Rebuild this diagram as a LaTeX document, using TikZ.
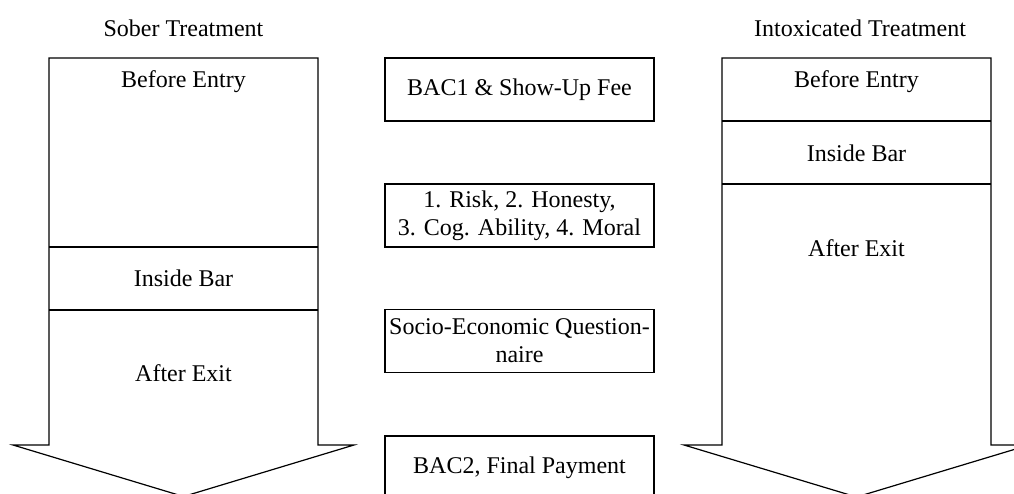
\documentclass[tikz,border=0pt]{standalone}
\usepackage{fontspec}
\setmainfont{Liberation Serif}
\usepackage{tikz}

\tikzset{
  phase/.style={draw, line width=1.2pt, minimum width=269pt, minimum height=63pt,
    inner sep=2pt, align=center, font=\fontsize{24}{28}\selectfont},
  tag/.style={align=center, font=\fontsize{24}{28}\selectfont},
  flow/.style={draw, line width=1.2pt, line join=miter}
}

\begin{document}
\begin{tikzpicture}[x=1pt, y=-1pt]
\useasboundingbox (0,0) rectangle (1014,494);
\clip (0,0) rectangle (1014,494);
% sober treatment arrow
\draw[flow] (49,58) -- (318,58) -- (318,445) -- (354,445) -- (183.5,496.5) -- (13,445) -- (49,445) -- cycle;
\draw[flow] (49,247) -- (318,247);
\draw[flow] (49,310) -- (318,310);
\node[tag] (sober) at (183.5,28) {Sober Treatment};
\node[tag] (sbefore) at (183.5,82) {Before Entry};
\node[tag] (sinside) at (183.5,278.5) {Inside Bar};
\node[tag] (safter) at (183.5,373) {After Exit};

% intoxicated treatment arrow
\draw[flow] (722,58) -- (991,58) -- (991,445) -- (1029,445) -- (856.5,497) -- (684,445) -- (722,445) -- cycle;
\draw[flow] (722,121) -- (991,121);
\draw[flow] (722,184) -- (991,184);
\node[tag] (intox) at (860,28) {Intoxicated Treatment};
\node[tag] (ibefore) at (856.5,82) {Before Entry};
\node[tag] (iinside) at (856.5,153) {Inside Bar};
\node[tag] (iafter) at (856.5,248) {After Exit};

% steps in the middle
\node[phase] (bac1) at (519.5,89.5) {BAC1 \& Show-Up Fee};
\node[phase] (tasks) at (519.5,215.5) {1. Risk, 2. Honesty,\\3. Cog. Ability, 4. Moral};
\node[phase] (quest) at (519.5,341) {Socio-Economic Question-\\naire};
\node[phase] (bac2) at (519.5,467.5) {BAC2, Final Payment};
\end{tikzpicture}
\end{document}
